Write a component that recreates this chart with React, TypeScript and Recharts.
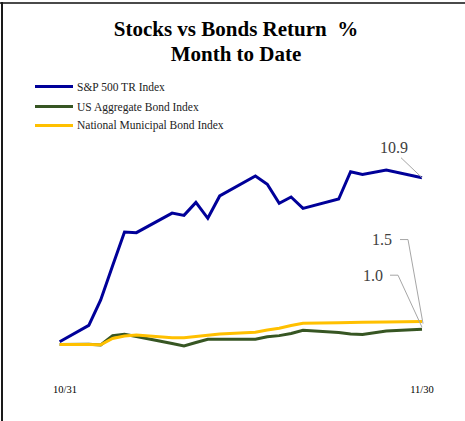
import { LineChart, Line, XAxis, YAxis } from 'recharts';

// days after 10/31 (weekends and Thanksgiving have no point)
const days = [-0.45, 2, 3, 4, 5, 6, 9, 10, 11, 12, 13, 16, 17, 18, 19, 20, 23, 24, 25, 27, 30];
const spx = [0.18, 1.25, 2.91, 5.15, 7.35, 7.31, 8.59, 8.44, 9.29, 8.25, 9.71, 11.01, 10.47, 9.23, 9.64, 8.9, 9.51, 11.29, 11.12, 11.41, 10.9];
const agg = [0, 0.01, -0.03, 0.58, 0.67, 0.52, 0.07, -0.1, 0.13, 0.34, 0.34, 0.34, 0.51, 0.58, 0.72, 0.93, 0.78, 0.69, 0.65, 0.88, 1.0];
const muni = [0, 0, -0.02, 0.39, 0.56, 0.62, 0.44, 0.44, 0.52, 0.6, 0.69, 0.8, 0.95, 1.06, 1.24, 1.39, 1.42, 1.44, 1.45, 1.47, 1.5];

const tickDays = [0, 30];
const tickLabels = ['10/31', '11/30'];

const series = [
  { key: 'spx', name: 'S&P 500 TR Index', color: '#000099' },
  { key: 'agg', name: 'US Aggregate Bond Index', color: '#375623' },
  { key: 'muni', name: 'National Municipal Bond Index', color: '#FFC000' },
];

const data = days.map((d, i) => ({ day: d, spx: spx[i], agg: agg[i], muni: muni[i] }));

const FONT = "'Times New Roman', 'Liberation Serif', serif";

// callout placement relative to the last point of each line
const callouts: Record<string, { tx: number; ty: number; path: number[][] }> = {
  spx: { tx: -28, ty: -30, path: [[-21, -20], [0, 0]] },
  muni: { tx: -40, ty: -82, path: [[-22, -82], [-14, -82], [1, 2]] },
  agg: { tx: -49, ty: -54, path: [[-32, -54], [-24, -54], [0, -2]] },
};

function endLabel(key: string) {
  return (props: any) => {
    const { x, y, index, value } = props;
    if (index !== days.length - 1) return null;
    const c = callouts[key];
    const pts = c.path.map(([dx, dy]) => `${x + dx},${y + dy}`).join(' ');
    return (
      <g key={`lbl-${key}`}>
        <polyline points={pts} fill="none" stroke="#a6a6a6" strokeWidth={1} />
        <text x={x + c.tx} y={y + c.ty} textAnchor="middle" dominantBaseline="central"
          fontFamily={FONT} fontSize={16} fill="#404040">
          {Number(value).toFixed(1)}
        </text>
      </g>
    );
  };
}

export default function App() {
  return (
    <div style={{ position: 'absolute', left: 0, top: 0, width: 465, height: 421, background: '#fff', fontFamily: FONT }}>
      <div style={{ position: 'absolute', left: 0, top: 2, width: 465, height: 2, background: '#4a4a4a' }} />
      <div style={{ position: 'absolute', left: 1, top: 2, width: 2, height: 419, background: '#1a1a1a' }} />

      <div style={{ position: 'absolute', left: 36, top: 17, width: 400, textAlign: 'center', fontWeight: 'bold', fontSize: 21, lineHeight: '25px', color: '#000' }}>
        <div>Stocks vs Bonds Return&nbsp; %</div>
        <div>Month to Date</div>
      </div>

      {series.map((s, i) => (
        <div key={s.key} style={{ position: 'absolute', left: 35, top: [86.7, 106.7, 125.3][i] - 8, height: 16, display: 'flex', alignItems: 'center' }}>
          <div style={{ width: 38, height: 3, background: s.color }} />
          <span style={{ marginLeft: 4, fontSize: 11.5, color: '#222', whiteSpace: 'nowrap' }}>{s.name}</span>
        </div>
      ))}

      <div style={{ position: 'absolute', left: 0, top: 0 }}>
        <LineChart width={465} height={421} data={data} margin={{ top: 160.9, right: 31.1, bottom: 15.9, left: 53.1 }}>
          <XAxis dataKey="day" type="number" domain={[-1, 31]} ticks={tickDays}
            tickFormatter={(v) => tickLabels[tickDays.indexOf(v)]}
            axisLine={false} tickLine={false} tickMargin={4} height={30}
            tick={{ fontFamily: FONT, fontSize: 10.5, fill: '#000' }} />
          <YAxis hide domain={[-2, 12]} type="number" />
          <Line dataKey="agg" stroke="#375623" strokeWidth={3} dot={false} isAnimationActive={false} label={endLabel('agg')} />
          <Line dataKey="muni" stroke="#FFC000" strokeWidth={3} dot={false} isAnimationActive={false} label={endLabel('muni')} />
          <Line dataKey="spx" stroke="#000099" strokeWidth={3} dot={false} isAnimationActive={false} label={endLabel('spx')} />
        </LineChart>
      </div>
    </div>
  );
}
